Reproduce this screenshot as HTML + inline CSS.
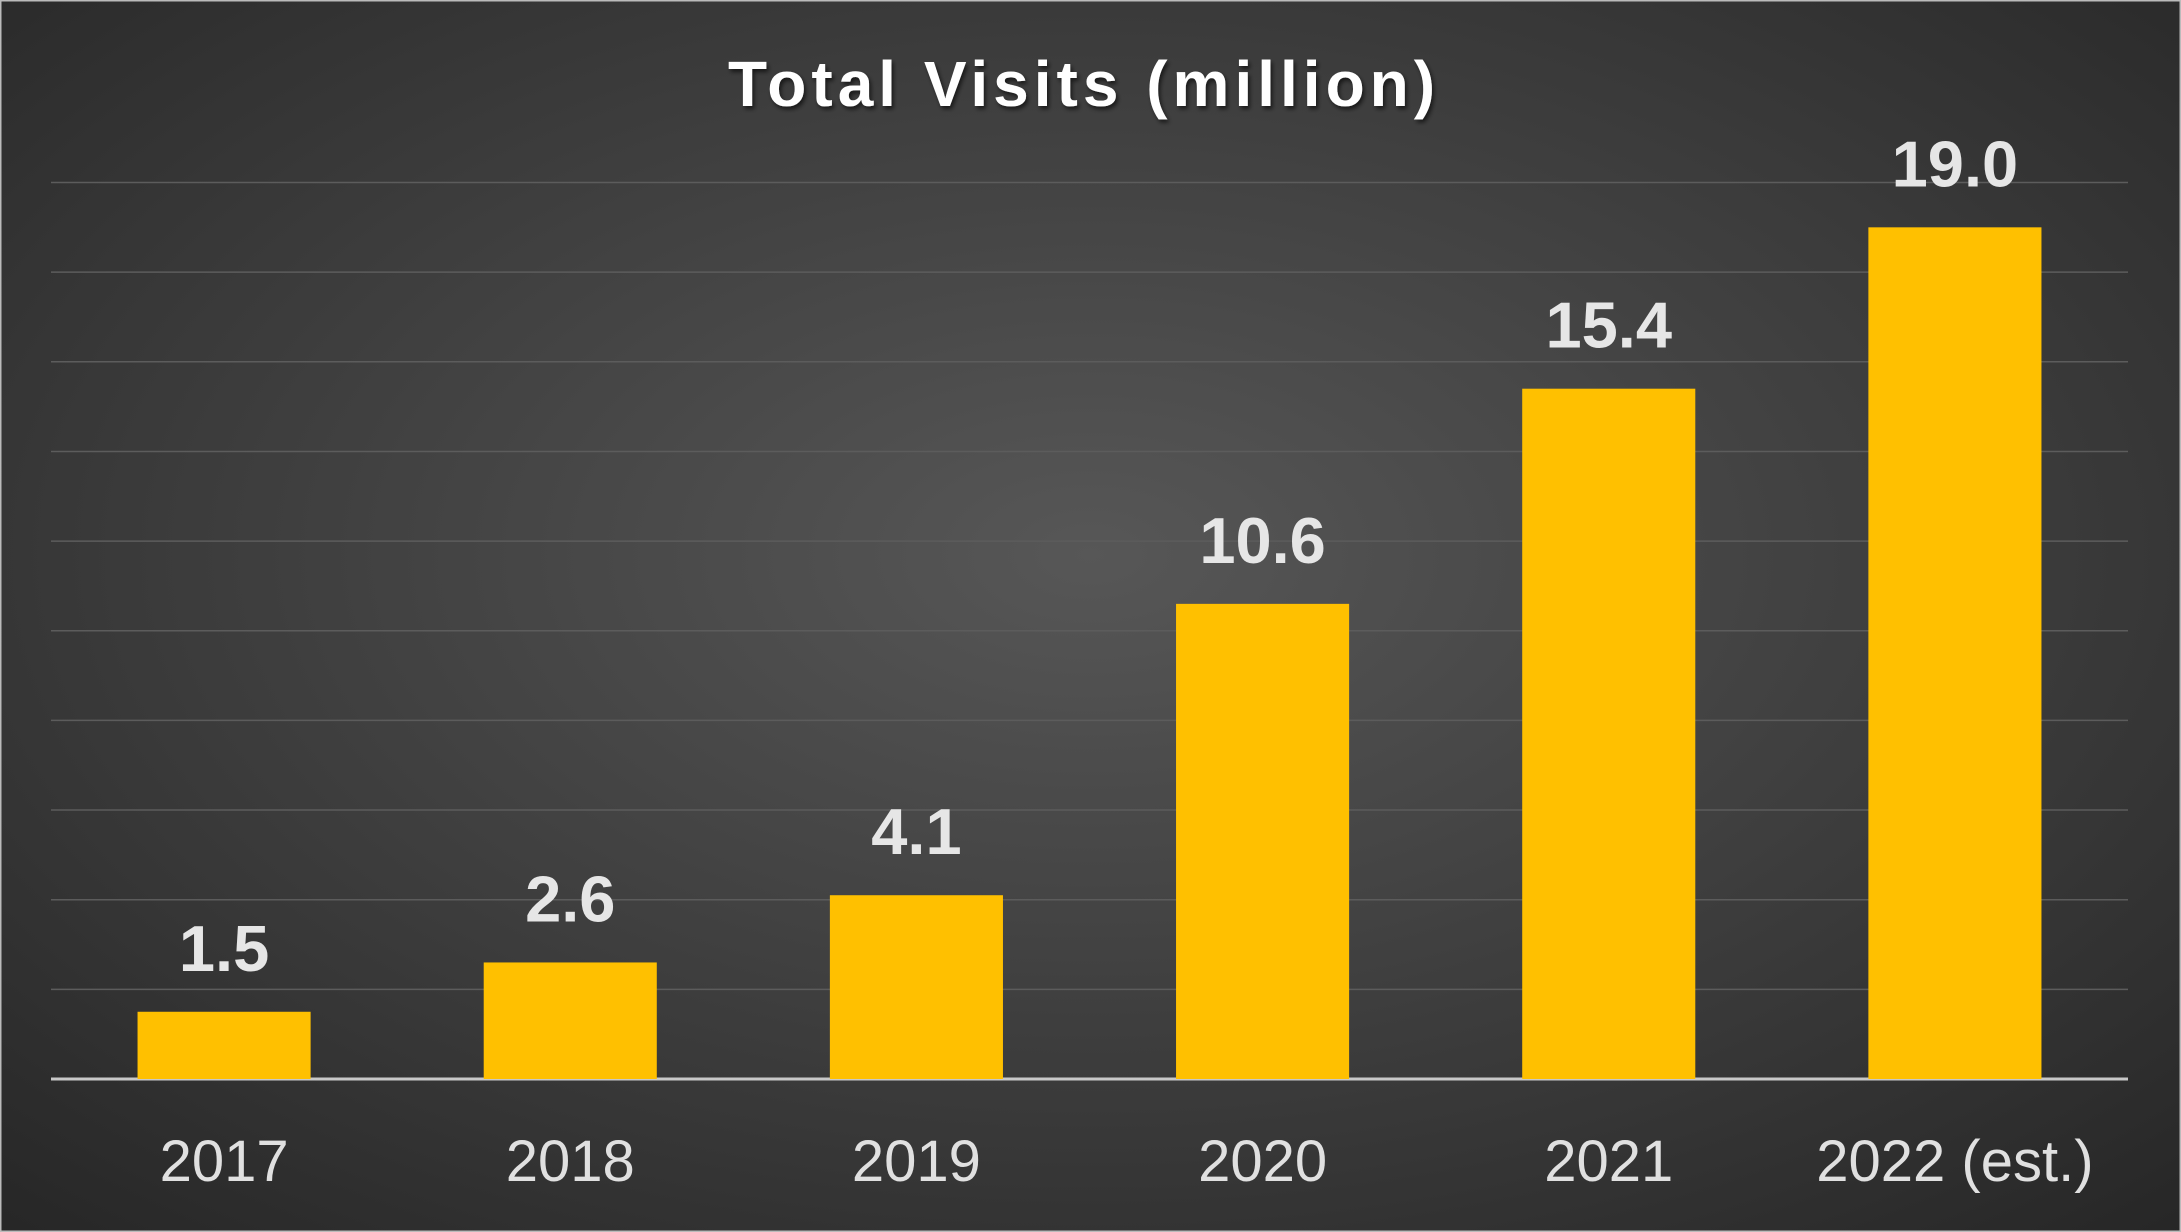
<!DOCTYPE html>
<html><head><meta charset="utf-8"><style>
html,body{margin:0;padding:0;}
body{width:2181px;height:1232px;overflow:hidden;background:#2a2a2a;}
svg{display:block;}
</style></head><body>
<svg id="chart" width="2181" height="1232" xmlns="http://www.w3.org/2000/svg">
<defs>
<radialGradient id="bg" cx="50%" cy="45%" r="75%">
<stop offset="0" stop-color="#575757"/><stop offset="1" stop-color="#262626"/>
</radialGradient>
<filter id="sh" x="-10%" y="-10%" width="130%" height="130%"><feDropShadow dx="2" dy="3" stdDeviation="2" flood-color="#000" flood-opacity="0.6"/></filter>
</defs>
<rect x="0" y="0" width="2181" height="1232" fill="url(#bg)" stroke="#bbb" stroke-width="3"/>
<text x="1084" y="106" text-anchor="middle" font-family="'Liberation Sans',sans-serif" font-weight="bold" font-size="64" fill="#fff" filter="url(#sh)" letter-spacing="5">Total Visits (million)</text>
<g id="grid"></g><g id="bars"></g><g id="labels"></g>
</svg>
<script>
const categories=["2017","2018","2019","2020","2021","2022 (est.)"];
const values=[1.5,2.6,4.1,10.6,15.4,19.0];
const valueLabels=["1.5","2.6","4.1","10.6","15.4","19.0"];
const gridTicks=[0,2,4,6,8,10,12,14,16,18,20];
const NS="http://www.w3.org/2000/svg";
const x0=51,x1=2128,yBase=1079,yTop=182.5,yMax=20;
const y=v=>yBase-(v/yMax)*(yBase-yTop);
const band=(x1-x0)/categories.length;
const g=document.getElementById('grid'),b=document.getElementById('bars'),l=document.getElementById('labels');
function mk(t,a,p){const e=document.createElementNS(NS,t);for(const k in a)e.setAttribute(k,a[k]);p.appendChild(e);return e;}
gridTicks.forEach(t=>{
 const ln=mk('line',{x1:x0,x2:x1,y1:y(t),y2:y(t),stroke:t===0?'#c8c8c8':'#5c5c5c','stroke-width':t===0?3:1.5},g);
 
 
});
values.forEach((v,i)=>{
 const cx=x0+band*(i+0.5),w=band*0.5;
 const r=mk('rect',{x:cx-w/2,y:y(v),width:w,height:yBase-y(v),fill:'#ffc000'},b);
 
 
 const t=mk('text',{x:cx,y:y(v)-41,'text-anchor':'middle','font-family':"'Liberation Sans',sans-serif",'font-weight':'bold','font-size':65,fill:'#e6e6e6'},l);
 t.textContent=valueLabels[i];
 
 
 const c=mk('text',{x:cx,y:1181,'text-anchor':'middle','font-family':"'Liberation Sans',sans-serif",'font-size':58,fill:'#e0e0e0'},l);
 c.textContent=categories[i];
 
 
});
</script>
</body></html>
